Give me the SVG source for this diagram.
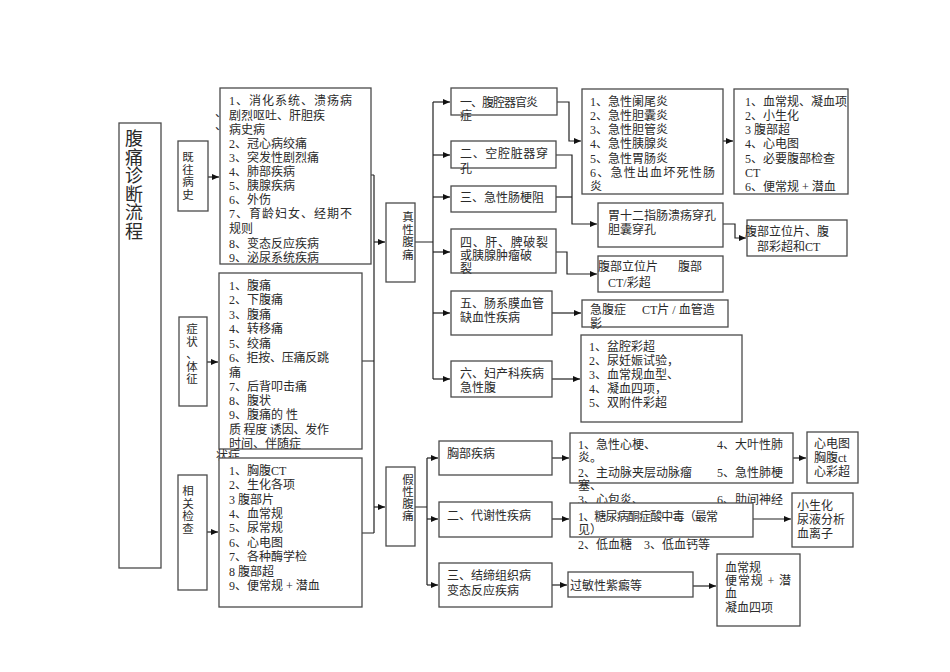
<svg xmlns="http://www.w3.org/2000/svg" width="950" height="672" viewBox="0 0 950 672">
<style>
  .bx { fill: #fff; stroke: #4a4a4a; stroke-width: 1.3; }
  .t { font-family: "Liberation Serif", "Noto Sans CJK SC", serif; font-size: 12px; fill: #2a2a2a; }
  .v { font-family: "Liberation Serif", "Noto Sans CJK SC", serif; font-size: 11.5px; fill: #2a2a2a; text-anchor: middle; }
  .ttl { font-family: "Liberation Serif", "Noto Sans CJK SC", serif; font-size: 18px; fill: #2a2a2a; text-anchor: middle; }
  .ln { fill: none; stroke: #222; stroke-width: 1.2; }
  .ar { fill: none; stroke: #222; stroke-width: 1.2; marker-end: url(#arr); }
</style>
<defs>
  <marker id="arr" markerUnits="userSpaceOnUse" markerWidth="8" markerHeight="8" refX="7" refY="3.5" orient="auto">
    <path d="M0,0.5 L7,3.5 L0,6.5 Z" fill="#111"/>
  </marker>
</defs>
<rect width="950" height="672" fill="#fff"/>

<g id="connectors">
  <path class="ar" d="M208,177 H219"/>
  <path class="ar" d="M207,362 H218"/>
  <path class="ar" d="M207,532 H218"/>
  <path class="ln" d="M371,175 H374 M362,361 H374 M362,533 H374 M374,175 V533"/>
  <path class="ar" d="M374,242 H385"/>
  <path class="ar" d="M374,507 H385"/>
  <path class="ln" d="M415,242 H433 M433,102 V379"/>
  <path class="ar" d="M433,102 H450"/>
  <path class="ar" d="M433,155 H450"/>
  <path class="ar" d="M433,197 H450"/>
  <path class="ar" d="M433,252 H450"/>
  <path class="ar" d="M433,313 H450"/>
  <path class="ar" d="M433,379 H450"/>
  <path class="ar" d="M557,102 H569 V141 H581"/>
  <path class="ar" d="M556,155 H572 V224 H597"/>
  <path class="ln" d="M556,197 H572"/>
  <path class="ar" d="M556,252 H567 V274 H597"/>
  <path class="ar" d="M552,313 H581"/>
  <path class="ar" d="M552,379 H580"/>
  <path class="ar" d="M723,141 H733"/>
  <path class="ar" d="M723,224 H735 V238 H746"/>
  <path class="ln" d="M415,507 H427 M427,458 V585"/>
  <path class="ar" d="M427,458 H438"/>
  <path class="ar" d="M427,519 H438"/>
  <path class="ar" d="M427,585 H438"/>
  <path class="ar" d="M552,458 H569"/>
  <path class="ar" d="M552,519 H569"/>
  <path class="ar" d="M552,585 H567"/>
  <path class="ar" d="M793,458 H806"/>
  <path class="ar" d="M753,519 H791"/>
  <path class="ar" d="M693,586 H716"/>
</g>

<g id="title">
  <rect class="bx" x="119" y="123" width="42" height="445"/>
  <text class="ttl" x="134"><tspan x="134" y="145">腹</tspan><tspan x="134" y="163.5">痛</tspan><tspan x="134" y="182">诊</tspan><tspan x="134" y="200.5">断</tspan><tspan x="134" y="219">流</tspan><tspan x="134" y="237.5">程</tspan></text>
</g>

<g id="history-label">
  <rect class="bx" x="178" y="141" width="30" height="70"/>
  <text class="v"><tspan x="188" y="161">既</tspan><tspan x="188" y="173.5">往</tspan><tspan x="188" y="186">病</tspan><tspan x="188" y="198.5">史</tspan></text>
</g>

<g id="history">
  <rect class="bx" x="220" y="88" width="151" height="176"/>
  <text class="t" x="229" y="105" textLength="123" lengthAdjust="spacing">1、消化系统、溃疡病</text>
  <text class="t" x="215" y="117">、</text>
  <text class="t" x="215" y="130">、</text>
  <text class="t" x="229" y="119.5">剧烈呕吐、肝胆疾</text>
  <text class="t" x="229" y="134">病史病</text>
  <text class="t" x="229" y="147.5">2、冠心病绞痛</text>
  <text class="t" x="229" y="161.5">3、突发性剧烈痛</text>
  <text class="t" x="229" y="175.5">4、肺部疾病</text>
  <text class="t" x="229" y="189.5">5、胰腺疾病</text>
  <text class="t" x="229" y="203.5">6、外伤</text>
  <text class="t" x="229" y="218" textLength="123" lengthAdjust="spacing">7、育龄妇女、经期不</text>
  <text class="t" x="229" y="232.5">规则</text>
  <text class="t" x="229" y="247.5">8、变态反应疾病</text>
  <text class="t" x="229" y="261.5">9、泌尿系统疾病</text>
</g>

<g id="symptom-label">
  <rect class="bx" x="179" y="317" width="28" height="89"/>
  <text class="v"><tspan x="192" y="333">症</tspan><tspan x="192" y="345.5">状</tspan><tspan x="192" y="358">、</tspan><tspan x="192" y="370.5">体</tspan><tspan x="192" y="383">征</tspan></text>
</g>

<g id="symptom">
  <rect class="bx" x="219" y="273" width="143" height="176"/>
  <text class="t" x="229" y="290">1、腹痛</text>
  <text class="t" x="229" y="304">2、下腹痛</text>
  <text class="t" x="229" y="318.5">3、腹痛</text>
  <text class="t" x="229" y="333">4、转移痛</text>
  <text class="t" x="229" y="347.5">5、绞痛</text>
  <text class="t" x="229" y="362" textLength="100" lengthAdjust="spacing">6、拒按、压痛反跳</text>
  <text class="t" x="229" y="376.5">痛</text>
  <text class="t" x="229" y="391">7、后背叩击痛</text>
  <text class="t" x="229" y="405">8、腹状</text>
  <text class="t" x="229" y="419">9、腹痛的 性</text>
  <text class="t" x="229" y="433.5" textLength="100" lengthAdjust="spacing">质 程度 诱因、发作</text>
  <text class="t" x="229" y="448">时间、伴随症</text>
  <text class="t" x="216" y="460">状症</text>
</g>

<g id="related-label">
  <rect class="bx" x="178" y="475" width="29" height="115"/>
  <text class="v"><tspan x="188" y="495">相</tspan><tspan x="188" y="507.5">关</tspan><tspan x="188" y="520">检</tspan><tspan x="188" y="532.5">查</tspan></text>
</g>

<g id="related">
  <rect class="bx" x="219" y="458" width="143" height="149"/>
  <text class="t" x="229" y="475">1、胸腹CT</text>
  <text class="t" x="229" y="489">2、生化各项</text>
  <text class="t" x="229" y="504">3 腹部片</text>
  <text class="t" x="229" y="518">4、血常规</text>
  <text class="t" x="229" y="532">5、尿常规</text>
  <text class="t" x="229" y="547">6、心电图</text>
  <text class="t" x="229" y="561">7、各种酶学检</text>
  <text class="t" x="229" y="576">8 腹部超</text>
  <text class="t" x="229" y="590">9、便常规 + 潜血</text>
</g>

<g id="true-pain">
  <rect class="bx" x="386" y="203" width="29" height="79"/>
  <text class="v"><tspan x="408" y="221">真</tspan><tspan x="408" y="233.5">性</tspan><tspan x="408" y="246">腹</tspan><tspan x="408" y="258.5">痛</tspan></text>
</g>

<g id="t1">
  <rect class="bx" x="451" y="88" width="106" height="27"/>
  <text class="t" x="460" y="107" textLength="78" lengthAdjust="spacing">一、腹腔器官炎</text>
  <text class="t" x="460" y="120">症</text>
</g>
<g id="t2">
  <rect class="bx" x="451" y="141" width="105" height="27"/>
  <text class="t" x="460" y="157.5" textLength="88" lengthAdjust="spacing">二、空腔脏器穿</text>
  <text class="t" x="460" y="172.5">孔</text>
</g>
<g id="t3">
  <rect class="bx" x="451" y="186" width="105" height="26"/>
  <text class="t" x="460" y="201.5">三、急性肠梗阻</text>
</g>
<g id="t4">
  <rect class="bx" x="451" y="229" width="105" height="44"/>
  <text class="t" x="460" y="246.5" textLength="88" lengthAdjust="spacing">四、肝、脾破裂</text>
  <text class="t" x="460" y="260">或胰腺肿瘤破</text>
  <text class="t" x="460" y="273">裂</text>
</g>
<g id="t5">
  <rect class="bx" x="451" y="291" width="101" height="44"/>
  <text class="t" x="460" y="307.5">五、肠系膜血管</text>
  <text class="t" x="460" y="321.5">缺血性疾病</text>
</g>
<g id="t6">
  <rect class="bx" x="451" y="361" width="101" height="36"/>
  <text class="t" x="460" y="377.5">六、妇产科疾病</text>
  <text class="t" x="460" y="391.5">急性腹</text>
</g>

<g id="inflam-list">
  <rect class="bx" x="582" y="89" width="141" height="105"/>
  <text class="t" x="590" y="106">1、急性阑尾炎</text>
  <text class="t" x="590" y="120">2、急性胆囊炎</text>
  <text class="t" x="590" y="134">3、急性胆管炎</text>
  <text class="t" x="590" y="148">4、急性胰腺炎</text>
  <text class="t" x="590" y="162.5">5、急性胃肠炎</text>
  <text class="t" x="590" y="177" textLength="125" lengthAdjust="spacing">6、急性出血坏死性肠</text>
  <text class="t" x="590" y="191">炎</text>
</g>
<g id="inflam-exam">
  <rect class="bx" x="734" y="89" width="114" height="105"/>
  <text class="t" x="745" y="106">1、血常规、凝血项</text>
  <text class="t" x="745" y="120">2、小生化</text>
  <text class="t" x="745" y="134">3 腹部超</text>
  <text class="t" x="745" y="148">4、心电图</text>
  <text class="t" x="745" y="162.5">5、必要腹部检查</text>
  <text class="t" x="745" y="177">CT</text>
  <text class="t" x="745" y="191">6、便常规 + 潜血</text>
</g>
<g id="perforation">
  <rect class="bx" x="598" y="203" width="125" height="44"/>
  <text class="t" x="608" y="220">胃十二指肠溃疡穿孔</text>
  <text class="t" x="608" y="233.5">胆囊穿孔</text>
</g>
<g id="perf-exam">
  <rect class="bx" x="747" y="220" width="100" height="36"/>
  <text class="t" x="745" y="236">腹部立位片、腹</text>
  <text class="t" x="757" y="251">部彩超和CT</text>
</g>
<g id="rupture-exam">
  <rect class="bx" x="598" y="256" width="125" height="36"/>
  <text class="t" x="598" y="271">腹部立位片</text>
  <text class="t" x="678" y="271">腹部</text>
  <text class="t" x="608" y="286.5">CT/彩超</text>
</g>
<g id="ischemia-exam">
  <rect class="bx" x="582" y="300" width="146" height="27"/>
  <text class="t" x="590" y="314">急腹症</text>
  <text class="t" x="642" y="314">CT片 / 血管造</text>
  <text class="t" x="590" y="328">影</text>
</g>
<g id="gyn-exam">
  <rect class="bx" x="581" y="335" width="161" height="87"/>
  <text class="t" x="589" y="350.5">1、盆腔彩超</text>
  <text class="t" x="589" y="364.5">2、尿妊娠试验，</text>
  <text class="t" x="589" y="378.5">3、血常规血型、</text>
  <text class="t" x="589" y="392.5">4、凝血四项，</text>
  <text class="t" x="589" y="406.5">5、双附件彩超</text>
</g>

<g id="false-pain">
  <rect class="bx" x="386" y="467" width="29" height="79"/>
  <text class="v"><tspan x="408" y="484">假</tspan><tspan x="408" y="496">性</tspan><tspan x="408" y="508">腹</tspan><tspan x="408" y="520">痛</tspan></text>
</g>
<g id="f1">
  <rect class="bx" x="439" y="441" width="113" height="34"/>
  <text class="t" x="447" y="457.5">胸部疾病</text>
</g>
<g id="f2">
  <rect class="bx" x="439" y="502" width="113" height="35"/>
  <text class="t" x="447" y="519.5">二、代谢性疾病</text>
</g>
<g id="f3">
  <rect class="bx" x="439" y="563" width="113" height="44"/>
  <text class="t" x="447" y="579.5">三、结缔组织病</text>
  <text class="t" x="447" y="594.5">变态反应疾病</text>
</g>

<g id="chest-list">
  <rect class="bx" x="570" y="433" width="223" height="50"/>
  <text class="t" x="578" y="448.5">1、急性心梗、</text>
  <text class="t" x="717" y="448.5">4、大叶性肺</text>
  <text class="t" x="578" y="462">炎。</text>
  <text class="t" x="578" y="476.5">2、主动脉夹层动脉瘤</text>
  <text class="t" x="717" y="476.5">5、急性肺梗</text>
  <text class="t" x="578" y="490">塞、</text>
  <text class="t" x="578" y="504">3、心包炎、</text>
  <text class="t" x="717" y="504">6、肋间神经</text>
</g>
<g id="chest-exam">
  <rect class="bx" x="807" y="432" width="51" height="51"/>
  <text class="t" x="814" y="447.5">心电图</text>
  <text class="t" x="814" y="461.5">胸腹ct</text>
  <text class="t" x="814" y="476">心彩超</text>
</g>
<g id="metab-list">
  <rect class="bx" x="570" y="503" width="183" height="34"/>
  <text class="t" x="578" y="521" textLength="140" lengthAdjust="spacing">1、糖尿病酮症酸中毒（最常</text>
  <text class="t" x="578" y="534">见）</text>
  <text class="t" x="578" y="548.5">2、低血糖　3、低血钙等</text>
</g>
<g id="metab-exam">
  <rect class="bx" x="792" y="493" width="61" height="54"/>
  <text class="t" x="797" y="509.5">小生化</text>
  <text class="t" x="797" y="523.5">尿液分析</text>
  <text class="t" x="797" y="537.5">血离子</text>
</g>
<g id="allergy">
  <rect class="bx" x="568" y="572" width="125" height="25"/>
  <text class="t" x="570" y="589.5">过敏性紫癜等</text>
</g>
<g id="allergy-exam">
  <rect class="bx" x="717" y="554" width="83" height="72"/>
  <text class="t" x="725" y="571.5">血常规</text>
  <text class="t" x="725" y="585" textLength="66" lengthAdjust="spacing">便常规 + 潜</text>
  <text class="t" x="725" y="598">血</text>
  <text class="t" x="725" y="612">凝血四项</text>
</g>
</svg>
